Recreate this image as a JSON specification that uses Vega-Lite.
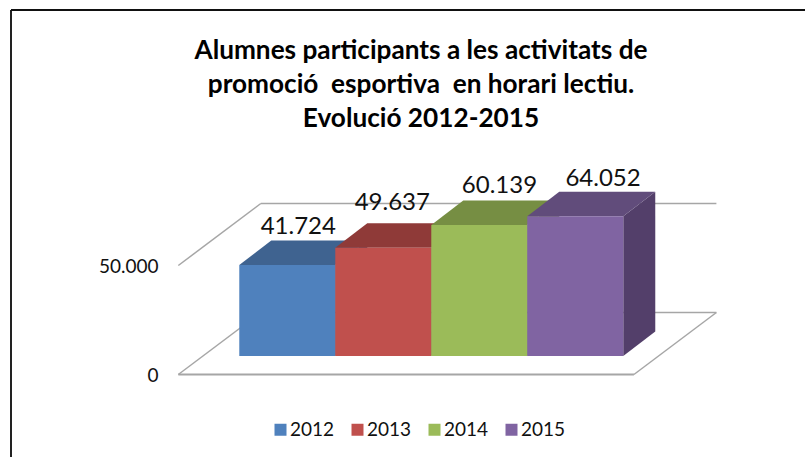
{
"$schema":"https://vega.github.io/schema/vega-lite/v6.json",
"width":794,"height":447,
"autosize":{"type":"none"},
"padding":{"left":11,"top":10,"right":0,"bottom":0},
"background":"white",
"title":{"text":["Alumnes participants a les activitats de","promoció \u00a0esportiva \u00a0en horari lectiu.","Evolució 2012-2015"],"font":"Lato","fontWeight":"bold","fontSize":26.2,"lineHeight":34,"color":"black","anchor":"middle","dx":13,"offset":-123},
"config":{"view":{"stroke":null},"font":"Lato"},
"datasets":{
"bars":[{"year":"2012","value":41724,"idx":0},{"year":"2013","value":49637,"idx":1},{"year":"2014","value":60139,"idx":2},{"year":"2015","value":64052,"idx":3}],
"levels":[{"level":0},{"level":50000}],
"floor":[{"level":0}]
},
"layer":[
{"data":{"name":"levels"},"transform":[{"calculate":"datum.level+28440","as":"back"}],"mark":{"type":"rule","color":"#A6A6A6","strokeWidth":1.5},
 "encoding":{"x":{"datum":-0.635,"type":"quantitative","scale":{"domain":[-2.378,5.893],"nice":false,"zero":false},"axis":null},"x2":{"datum":0.224},
 "y":{"field":"level","type":"quantitative","scale":{"domain":[-37844,167202],"nice":false,"zero":false},"axis":{"values":[0,50000],"title":null,"grid":false,"domain":false,"ticks":false,"offset":-147,"labelPadding":0,"labelFont":"Lato","labelFontSize":19,"labelOffset":0.5,"labelColor":"#111111","labelExpr":"replace(format(datum.value,','),',','.')"}},"y2":{"field":"back"}}},
{"data":{"name":"levels"},"transform":[{"calculate":"datum.level+28440","as":"back"}],"mark":{"type":"rule","color":"#A6A6A6","strokeWidth":1.5},
 "encoding":{"x":{"datum":0.224,"type":"quantitative","scale":{"domain":[-2.378,5.893],"nice":false,"zero":false},"axis":null},"x2":{"datum":4.97},
 "y":{"field":"back","type":"quantitative","scale":{"domain":[-37844,167202],"nice":false,"zero":false}}}},
{"data":{"name":"floor"},"mark":{"type":"rule","color":"#A6A6A6","strokeWidth":2},
 "encoding":{"x":{"datum":-0.635,"type":"quantitative","scale":{"domain":[-2.378,5.893],"nice":false,"zero":false},"axis":null},"x2":{"datum":4.111},
 "y":{"field":"level","type":"quantitative","scale":{"domain":[-37844,167202],"nice":false,"zero":false}}}},
{"data":{"name":"floor"},"transform":[{"calculate":"datum.level+28440","as":"back"}],"mark":{"type":"rule","color":"#A6A6A6","strokeWidth":1.5},
 "encoding":{"x":{"datum":4.111,"type":"quantitative","scale":{"domain":[-2.378,5.893],"nice":false,"zero":false},"axis":null},"x2":{"datum":4.97},
 "y":{"field":"level","type":"quantitative","scale":{"domain":[-37844,167202],"nice":false,"zero":false}},"y2":{"field":"back"}}},
{"data":{"name":"bars"},"transform":[{"calculate":"datum.idx+1","as":"xa"},{"calculate":"datum.idx+1.3333","as":"xb"},{"fold":["xa","xb"],"as":["edge","xx"]},{"calculate":"datum.value+8486+(datum.edge==='xb'?11239:0)","as":"yT"},{"calculate":"8486+(datum.edge==='xb'?11239:0)","as":"yB"}],"mark":{"type":"area","orient":"vertical"},
 "encoding":{"x":{"field":"xx","type":"quantitative","scale":{"domain":[-2.378,5.893],"nice":false,"zero":false},"axis":null},
 "y":{"field":"yT","type":"quantitative","scale":{"domain":[-37844,167202],"nice":false,"zero":false}},"y2":{"field":"yB"},
 "color":{"field":"year","type":"nominal","legend":null,"scale":{"domain":["2012","2013","2014","2015"],"range":["#35577F","#7E3432","#657B3A","#533F6A"]}}}},
{"data":{"name":"bars"},"transform":[{"calculate":"datum.value+8486","as":"yf"},{"calculate":"datum.value+8486+11239","as":"yb"},{"fold":["yf","yb"],"as":["edge","yy"]},{"calculate":"datum.idx+(datum.edge==='yb'?0.3333:0)","as":"xL"},{"calculate":"datum.xL+1","as":"xR"}],"mark":{"type":"area","orient":"horizontal"},
 "encoding":{"y":{"field":"yy","type":"quantitative","scale":{"domain":[-37844,167202],"nice":false,"zero":false}},
 "x":{"field":"xL","type":"quantitative","scale":{"domain":[-2.378,5.893],"nice":false,"zero":false},"axis":null},"x2":{"field":"xR"},
 "color":{"field":"year","type":"nominal","legend":null,"scale":{"domain":["2012","2013","2014","2015"],"range":["#3F6390","#8F3A38","#768E43","#614C7B"]}}}},
{"data":{"name":"bars"},"transform":[{"calculate":"datum.idx+1","as":"xR"},{"calculate":"datum.value+8486","as":"yT"},{"calculate":"8486","as":"yB"}],"mark":{"type":"rect"},
 "encoding":{"x":{"field":"idx","type":"quantitative","scale":{"domain":[-2.378,5.893],"nice":false,"zero":false},"axis":null},"x2":{"field":"xR"},
 "y":{"field":"yT","type":"quantitative","scale":{"domain":[-37844,167202],"nice":false,"zero":false}},"y2":{"field":"yB"},
 "color":{"field":"year","type":"nominal","scale":{"domain":["2012","2013","2014","2015"],"range":["#4F81BD","#C0504D","#9BBB59","#8064A2"]},
 "legend":{"orient":"none","legendX":260,"legendY":410,"direction":"horizontal","title":null,"symbolType":"square","symbolSize":144,"symbolStrokeWidth":0,"labelFont":"Lato","labelFontSize":19,"labelColor":"#111111","labelOffset":0,"columnPadding":13,"columns":4}}}},
{"data":{"name":"bars"},"transform":[{"calculate":"datum.idx+0.5+[0.115,0.094,0.21,0.289][datum.idx]","as":"lx"},{"calculate":"datum.value+8486+[17450,20600,17850,17050][datum.idx]","as":"ly"},{"calculate":"replace(format(datum.value,','),',','.')","as":"lab"}],"mark":{"type":"text","font":"Lato","fontSize":24,"color":"#111111","baseline":"middle","align":"center"},
 "encoding":{"x":{"field":"lx","type":"quantitative","scale":{"domain":[-2.378,5.893],"nice":false,"zero":false},"axis":null},
 "y":{"field":"ly","type":"quantitative","scale":{"domain":[-37844,167202],"nice":false,"zero":false}},"text":{"field":"lab"}}},
{"data":{"values":[{"edge":"left"}]},"mark":{"type":"rule","color":"#222222","strokeWidth":2},"encoding":{"x":{"datum":-2.378,"type":"quantitative","scale":{"domain":[-2.378,5.893],"nice":false,"zero":false},"axis":null}}},
{"data":{"values":[{"edge":"top"}]},"mark":{"type":"rule","color":"#111111","strokeWidth":2},"encoding":{"y":{"datum":167202,"type":"quantitative","scale":{"domain":[-37844,167202],"nice":false,"zero":false}}}}
],
"resolve":{"scale":{"color":"independent"}}
}
